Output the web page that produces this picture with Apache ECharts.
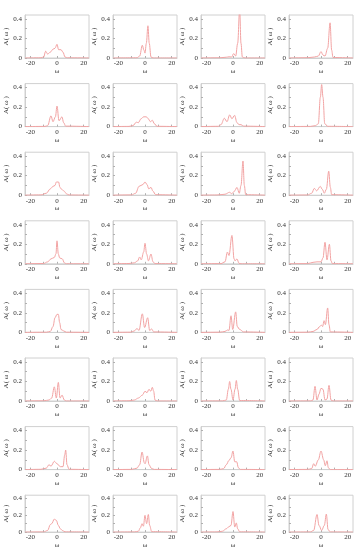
<!DOCTYPE html>
<html><head><meta charset="utf-8">
<script src="https://cdn.jsdelivr.net/npm/echarts@6/dist/echarts.min.js"></script>
<style>html,body{margin:0;padding:0;background:#fff}#c{width:363px;height:550px}</style>
</head><body><div id="c"></div>
<script>
// tick labels
const xTicks = [-20, 0, 20];
const yTicks = [0, 0.2, 0.4];
const xName = 'ω';
const yName = 'A( ω )';

// spectra A(ω), [ω, A] key points, row by row
const r1c1 = [[-24,0],[-12,0.002],[-10,0.01],[-8.5,0.07],[-7,0.04],[-5,0.06],[-3,0.09],[-1.5,0.1],[0,0.14],[1.2,0.085],[3,0.085],[4.5,0.06],[6,0.01],[8,0.002],[24,0]];
const r1c2 = [[-24,0],[-6,0.002],[-4,0.02],[-2,0.13],[-0.8,0.08],[0,0.05],[1,0.15],[2.2,0.33],[3.2,0.15],[4.5,0.01],[6,0],[24,0]];
const r1c3 = [[-24,0],[-10,0.002],[-5,0.008],[-3,0.012],[-1,0.01],[0.5,0.045],[2,0.02],[3.5,0.15],[5,0.5],[6,0.15],[7,0.01],[9,0],[24,0]];
const r1c4 = [[-24,0],[-10,0.003],[-5,0.01],[-2,0.02],[0,0.065],[1.5,0.03],[3,0.02],[5,0.1],[6.8,0.36],[8,0.08],[9,0.005],[24,0]];

const r2c1 = [[-24,0],[-9,0.002],[-7,0.01],[-4.5,0.11],[-3,0.05],[-1.2,0.1],[0,0.21],[1.5,0.06],[3.7,0.1],[5,0.04],[6.5,0.005],[24,0]];
const r2c2 = [[-24,0],[-12,0.002],[-9,0.01],[-6.5,0.045],[-5,0.04],[-3,0.08],[-1,0.1],[1,0.1],[2.5,0.08],[4,0.05],[5.5,0.065],[7,0.03],[9,0.003],[24,0]];
const r2c3 = [[-24,0],[-11,0.003],[-9,0.02],[-6.5,0.085],[-4.5,0.05],[-2.5,0.12],[-0.8,0.08],[1.2,0.115],[3,0.04],[4.5,0.02],[6,0.02],[8,0.005],[24,0]];
const r2c4 = [[-24,0],[-8,0.002],[-4,0.01],[-2,0.03],[-0.5,0.3],[0.5,0.43],[1.5,0.3],[2.8,0.03],[5,0.003],[24,0]];

const r3c1 = [[-24,0],[-12,0.003],[-8,0.02],[-5,0.065],[-3,0.09],[-1.5,0.1],[-0.5,0.135],[1.2,0.135],[2.2,0.08],[3.5,0.06],[5.5,0.04],[7,0.015],[9,0.002],[24,0]];
const r3c2 = [[-24,0],[-10,0.003],[-7,0.02],[-4.5,0.09],[-3,0.1],[-1.5,0.11],[0,0.135],[1.5,0.11],[2.8,0.065],[4.5,0.08],[6,0.04],[8,0.005],[24,0]];
const r3c3 = [[-24,0],[-12,0.002],[-6,0.01],[-2.5,0.03],[-1,0.015],[1,0.04],[3,0.08],[4.7,0.02],[6,0.1],[7.5,0.35],[8.5,0.1],[9.5,0.005],[24,0]];
const r3c4 = [[-24,0],[-10,0.002],[-7,0.02],[-5,0.07],[-3.3,0.045],[-0.5,0.09],[1,0.06],[2.5,0.02],[4,0.06],[5.8,0.245],[7,0.08],[8,0.005],[24,0]];

const r4c1 = [[-24,0],[-10,0.003],[-7,0.02],[-4.5,0.05],[-2,0.065],[-0.8,0.1],[0,0.235],[1,0.1],[2,0.06],[4,0.05],[5.5,0.01],[7,0],[24,0]];
const r4c2 = [[-24,0],[-12,0.003],[-8,0.01],[-5.5,0.03],[-4,0.07],[-2.8,0.04],[-1,0.12],[0,0.21],[1.2,0.1],[2.6,0.03],[4.5,0.1],[6,0.02],[7.5,0.002],[24,0]];
const r4c3 = [[-24,0],[-9,0.002],[-6,0.02],[-4.2,0.12],[-3,0.085],[-0.8,0.29],[0.8,0.05],[1.5,0.03],[3,0.05],[4.5,0.005],[6,0],[24,0]];
const r4c4 = [[-24,0],[-10,0.002],[-6,0.015],[-3,0.02],[0,0.02],[1.5,0.06],[3,0.22],[4.5,0.04],[6.3,0.2],[7.5,0.03],[8.5,0.002],[24,0]];

const r5c1 = [[-24,0],[-8,0.002],[-5,0.01],[-3,0.06],[-1.5,0.15],[0,0.185],[1,0.185],[2,0.1],[3,0.03],[5,0.015],[7,0.002],[24,0]];
const r5c2 = [[-24,0],[-11,0.002],[-8,0.015],[-6,0.04],[-4.5,0.02],[-2,0.19],[-0.3,0.05],[2,0.15],[3.5,0.02],[5,0.035],[6.5,0.005],[24,0]];
const r5c3 = [[-24,0],[-10,0.002],[-6,0.01],[-4,0.025],[-3,0.02],[-1.5,0.17],[-0.2,0.03],[2,0.21],[3.2,0.06],[5,0.03],[8,0.005],[24,0]];
const r5c4 = [[-24,0],[-10,0.002],[-6,0.01],[-3,0.03],[-1,0.06],[0.3,0.075],[1.2,0.06],[2.3,0.12],[3.3,0.08],[5,0.25],[6,0.08],[7,0.005],[24,0]];

const r6c1 = [[-24,0],[-10,0.002],[-6,0.01],[-4,0.03],[-2,0.145],[-0.5,0.03],[1,0.19],[2.3,0.03],[3.8,0.06],[5.5,0.01],[7,0],[24,0]];
const r6c2 = [[-24,0],[-12,0.002],[-8,0.01],[-5,0.03],[-2,0.06],[0,0.1],[1.5,0.085],[3,0.12],[4.3,0.1],[5.5,0.14],[6.5,0.1],[7.5,0.01],[9,0],[24,0]];
const r6c3 = [[-24,0],[-8,0.001],[-5,0.01],[-3.5,0.12],[-2.5,0.2],[-1.5,0.12],[0,0.01],[1.5,0.12],[2.5,0.21],[3.5,0.12],[5,0.005],[24,0]];
const r6c4 = [[-24,0],[-8,0.001],[-6,0.01],[-4.5,0.15],[-3,0.01],[-1.5,0.07],[0,0.13],[1.5,0.12],[3,0.01],[4.5,0.02],[6,0.16],[7.5,0.01],[9,0],[24,0]];

const r7c1 = [[-24,0],[-12,0.003],[-8,0.015],[-6,0.05],[-4.5,0.035],[-2,0.085],[0,0.06],[2.5,0.03],[4.5,0.03],[5.8,0.15],[6.5,0.2],[7.5,0.05],[9,0.003],[24,0]];
const r7c2 = [[-24,0],[-10,0.002],[-6,0.015],[-4,0.05],[-2.2,0.18],[-0.5,0.07],[0,0.06],[1.8,0.14],[3,0.05],[5,0.01],[7,0.002],[24,0]];
const r7c3 = [[-24,0],[-10,0.002],[-7,0.01],[-5,0.05],[-3,0.095],[-1.5,0.12],[0,0.19],[1.3,0.08],[2.8,0.08],[4,0.02],[5.5,0.002],[24,0]];
const r7c4 = [[-24,0],[-10,0.002],[-7,0.01],[-5.5,0.06],[-4.3,0.035],[-2,0.1],[0,0.19],[2,0.1],[3.2,0.04],[4.5,0.09],[5.5,0.02],[7,0],[24,0]];

const r8c1 = [[-24,0],[-10,0.002],[-7,0.02],[-5,0.09],[-4,0.1],[-2,0.155],[-0.5,0.14],[1,0.08],[2.5,0.04],[4,0.02],[6,0.003],[24,0]];
const r8c2 = [[-24,0],[-8,0.002],[-5,0.01],[-3.5,0.05],[-2.2,0.1],[-1.2,0.07],[0,0.2],[1.2,0.1],[2.5,0.21],[3.5,0.08],[5,0.005],[24,0]];
const r8c3 = [[-24,0],[-12,0.002],[-8,0.01],[-5,0.04],[-3,0.065],[-1.5,0.08],[0,0.245],[1.3,0.06],[2.5,0.11],[3.5,0.04],[5,0.003],[24,0]];
const r8c4 = [[-24,0],[-8,0.002],[-5.5,0.02],[-3,0.21],[-1.5,0.08],[0.5,0.02],[2.5,0.08],[4,0.215],[5.3,0.03],[7,0.002],[24,0]];

const panels = [
  [r1c1, r1c2, r1c3, r1c4],
  [r2c1, r2c2, r2c3, r2c4],
  [r3c1, r3c2, r3c3, r3c4],
  [r4c1, r4c2, r4c3, r4c4],
  [r5c1, r5c2, r5c3, r5c4],
  [r6c1, r6c2, r6c3, r6c4],
  [r7c1, r7c2, r7c3, r7c4],
  [r8c1, r8c2, r8c3, r8c4]
];

const colLeft = [25, 113, 201, 289];
const plotW = 64, plotH = 43, top0 = 15, rowStep = 68.6;
const font = '"Liberation Serif", "DejaVu Serif", serif';
const lineColor = '#f2a3a3';
const frameColor = '#d0d0d0';

const grid = [], xAxis = [], yAxis = [], series = [];
panels.forEach((row, r) => {
  row.forEach((data, c) => {
    const i = grid.length;
    grid.push({left: colLeft[c], top: top0 + r * rowStep, width: plotW, height: plotH,
      show: true, borderColor: frameColor, borderWidth: 1, backgroundColor: 'transparent'});
    xAxis.push({gridIndex: i, type: 'value', min: -24, max: 24,
      name: xName, nameLocation: 'middle', nameGap: 9,
      nameTextStyle: {fontFamily: font, fontSize: 7, color: '#333'},
      axisLine: {onZero: false, lineStyle: {color: frameColor}},
      axisTick: {inside: true, length: 2, lineStyle: {color: '#b0b0b0'}, customValues: [-20, -10, 0, 10, 20]},
      axisLabel: {customValues: xTicks, fontFamily: font, fontSize: 7, color: '#333', margin: 2,
        formatter: v => String(v)},
      splitLine: {show: false}});
    yAxis.push({gridIndex: i, type: 'value', min: 0, max: 0.44,
      name: yName, nameLocation: 'middle', nameGap: 15, nameRotate: 90,
      nameTextStyle: {fontFamily: font, fontSize: 7, color: '#333'},
      axisLine: {onZero: false, lineStyle: {color: frameColor}},
      axisTick: {inside: true, length: 2, lineStyle: {color: '#b0b0b0'}, customValues: [0, 0.1, 0.2, 0.3, 0.4]},
      axisLabel: {customValues: yTicks, fontFamily: font, fontSize: 7, color: '#333', margin: 3,
        formatter: v => (v === 0 ? '0' : String(v))},
      splitLine: {show: false}});
    series.push({type: 'line', xAxisIndex: i, yAxisIndex: i, data: data,
      smooth: 0.35, smoothMonotone: 'x', showSymbol: false, clip: true,
      lineStyle: {color: lineColor, width: 1}, silent: true});
  });
});

const chart = echarts.init(document.getElementById('c'), null, {renderer: 'canvas'});
chart.setOption({animation: false, backgroundColor: '#fff', grid, xAxis, yAxis, series});
</script></body></html>
